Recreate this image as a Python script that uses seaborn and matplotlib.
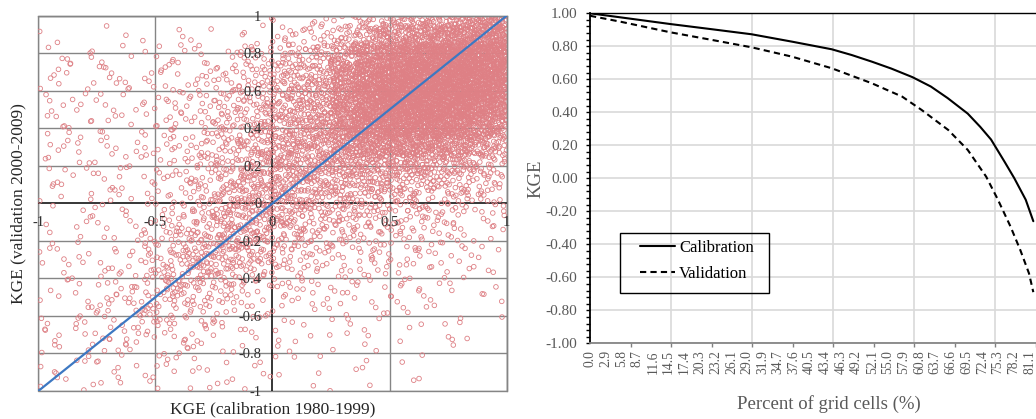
import numpy as np
import pandas as pd
import matplotlib
matplotlib.use("Agg")
import matplotlib.pyplot as plt
from matplotlib.patches import Rectangle
from matplotlib.lines import Line2D
import seaborn as sns

# ------------------------------------------------------------------
# Left panel data: number of points per 0.1 x 0.1 cell
# rows: top (y 0.9..1.0) -> bottom (y -1.0..-0.9); cols: x -1.0..-0.9 -> 0.9..1.0
# ------------------------------------------------------------------
cell_counts = [
    [0, 0, 0, 0, 0,   0, 1, 0, 0, 1,   2, 4, 5,   12, 18,   25, 32, 38, 50, 60],
    [2, 1, 2, 1, 2,   2, 2, 3, 3, 5,   10, 12, 15,   35, 55,   75, 85, 95, 100, 100],
    [3, 3, 3, 3, 3,   4, 4, 5, 8, 10,   18, 22, 30,   65, 85,   110, 120, 125, 125, 110],
    [3, 3, 3, 3, 3,   4, 5, 7, 10, 14,   22, 25, 35,   80, 100,   125, 130, 130, 125, 105],
    [3, 3, 3, 3, 3,   5, 6, 9, 12, 16,   25, 28, 40,   85, 105,   125, 125, 125, 120, 90],
    [3, 3, 3, 3, 3,   5, 7, 10, 14, 18,   28, 30, 45,   85, 100,   110, 110, 105, 100, 65],
    [3, 3, 3, 3, 3,   6, 7, 12, 16, 22,   30, 35, 45,   70, 80,   85, 80, 75, 60, 35],
    [3, 3, 3, 3, 3,   6, 7, 12, 18, 25,   30, 32, 38,   45, 45,   45, 40, 38, 30, 15],
    [3, 3, 3, 3, 3,   6, 8, 14, 20, 28,   30, 30, 30,   32, 30,   28, 25, 22, 18, 10],
    [2, 3, 2, 3, 3,   5, 8, 15, 22, 28,   28, 25, 22,   22, 20,   18, 16, 14, 12, 8],
    [2, 2, 3, 3, 3,   6, 10, 18, 25, 28,   24, 20, 18,   16, 14,   12, 10, 8, 6, 4],
    [2, 3, 2, 3, 4,   10, 14, 22, 28, 25,   18, 15, 12,   12, 10,   8, 8, 6, 5, 3],
    [2, 3, 2, 3, 5,   12, 18, 25, 24, 18,   12, 10, 8,   8, 7,   6, 5, 5, 4, 2],
    [3, 2, 3, 4, 6,   16, 22, 22, 16, 12,   8, 7, 6,   5, 5,   5, 4, 3, 2, 2],
    [2, 2, 3, 5, 8,   16, 18, 12, 8, 6,   5, 5, 4,   4, 4,   4, 3, 2, 2, 1],
    [2, 3, 4, 7, 10,   12, 10, 7, 5, 4,   3, 3, 3,   3, 3,   2, 2, 2, 1, 1],
    [3, 3, 5, 6, 7,   8, 6, 4, 3, 3,   2, 2, 2,   2, 2,   2, 1, 1, 1, 1],
    [3, 3, 4, 4, 4,   4, 4, 3, 2, 2,   2, 2, 1,   2, 1,   1, 1, 1, 1, 0],
    [2, 3, 3, 2, 3,   3, 3, 2, 2, 2,   1, 1, 1,   1, 1,   1, 1, 1, 0, 0],
    [2, 2, 2, 2, 2,   2, 2, 2, 2, 2,   1, 1, 1,   1, 1,   1, 0, 0, 0, 0],
]
cell_col_left = [-1.0, -0.9, -0.8, -0.7, -0.6, -0.5, -0.4, -0.3, -0.2, -0.1,
                 0.0, 0.1, 0.2, 0.3, 0.4, 0.5, 0.6, 0.7, 0.8, 0.9]
cell_row_bottom = [0.9, 0.8, 0.7, 0.6, 0.5, 0.4, 0.3, 0.2, 0.1, 0.0,
                   -0.1, -0.2, -0.3, -0.4, -0.5, -0.6, -0.7, -0.8, -0.9, -1.0]
cell_size = 0.1

left_xticks = [-1, -0.5, 0, 0.5, 1]
left_xticklabels = ["-1", "-0.5", "0", "0.5", "1"]
left_yticks = [1, 0.8, 0.6, 0.4, 0.2, 0, -0.2, -0.4, -0.6, -0.8, -1]
left_yticklabels = ["1", "0.8", "0.6", "0.4", "0.2", "0", "-0.2", "-0.4", "-0.6", "-0.8", "-1"]

# ------------------------------------------------------------------
# Right panel data: KGE vs percent of grid cells
# ------------------------------------------------------------------
calib_pct = [0.0, 5.5, 14.8, 22.6, 29.8, 37.3, 44.6, 48.3, 52.0, 55.6, 59.5,
             62.9, 66.0, 69.7, 72.0, 74.0, 76.5, 78.3, 80.4, 81.8]
calib_kge = [1.00, 0.976, 0.935, 0.903, 0.873, 0.828, 0.782, 0.747, 0.707, 0.665, 0.613,
             0.556, 0.486, 0.392, 0.312, 0.235, 0.100, 0.000, -0.130, -0.260]
valid_pct = [0.0, 5.5, 14.8, 22.6, 29.8, 37.3, 44.6, 52.0, 57.6, 61.2, 66.1,
             69.7, 73.1, 75.2, 77.6, 79.4, 81.0, 81.8]
valid_kge = [0.985, 0.950, 0.885, 0.838, 0.794, 0.737, 0.667, 0.576, 0.495, 0.414, 0.293,
             0.172, 0.010, -0.125, -0.293, -0.435, -0.576, -0.690]
pct_ticklabels = ["0.0", "2.9", "5.8", "8.7", "11.6", "14.5", "17.4", "20.3", "23.2", "26.1",
                  "29.0", "31.9", "34.7", "37.6", "40.5", "43.4", "46.3", "49.2", "52.1", "55.0",
                  "57.9", "60.8", "63.7", "66.6", "69.5", "72.4", "75.3", "78.2", "81.1"]
kge_ticks = [1.0, 0.8, 0.6, 0.4, 0.2, 0.0, -0.2, -0.4, -0.6, -0.8, -1.0]
series_names = ["Calibration", "Validation"]

# ------------------------------------------------------------------
sns.set_style("white")
plt.rcParams["font.family"] = ["Liberation Serif", "DejaVu Serif"]
plt.rcParams["axes.unicode_minus"] = False

W, H = 1036, 419
fig = plt.figure(figsize=(W / 100, H / 100), dpi=100)

def fx(px):
    return px / W

def fy(py):
    return 1 - py / H

# ---------------- left panel ----------------
L0, R0, T0, B0 = 38.3, 506.7, 15.7, 391.0
ax1 = fig.add_axes([fx(L0), fy(B0), fx(R0 - L0), (B0 - T0) / H])

# Place each cell's points quasi-uniformly (leaped Halton sequence, bases 2/3)
# over a box twice the cell size, which smooths the block edges;
# reflect at the plot limits.
def radical_inverse(n, base):
    inv, f = 0.0, 1.0 / base
    while n > 0:
        n, d = divmod(n, base)
        inv += d * f
        f /= base
    return inv

def reflect(v):
    if v > 1:
        return 2 - v
    if v < -1:
        return -2 - v
    return v

LEAP = 409
xs, ys = [], []
k = 0
for r, row in enumerate(cell_counts):
    for c, n in enumerate(row):
        cx = cell_col_left[c] + cell_size / 2
        cy = cell_row_bottom[r] + cell_size / 2
        for _ in range(n):
            k += 1
            idx = 17 + k * LEAP
            u = radical_inverse(idx, 2)
            w = radical_inverse(idx, 3)
            xs.append(reflect(cx + 2 * cell_size * (u - 0.5)))
            ys.append(reflect(cy + 2 * cell_size * (w - 0.5)))
scatter_df = pd.DataFrame({"calibration": xs, "validation": ys})

grid_gray = "#858585"
for yv in left_yticks:
    if yv != 0:
        ax1.axhline(yv, color=grid_gray, lw=1.0, zorder=0.5)
for xv in left_xticks:
    if xv != 0:
        ax1.axvline(xv, color=grid_gray, lw=1.0, zorder=0.5)
ax1.axhline(0, color="black", lw=1.1, zorder=1)
ax1.axvline(0, color="black", lw=1.1, zorder=1)

sns.scatterplot(data=scatter_df, x="calibration", y="validation", ax=ax1,
                s=11, marker="o", facecolor="none", edgecolor="#de8085",
                linewidth=0.6, zorder=2, legend=False)
ax1.axline((0, 0), slope=1, color="#3d78c2", lw=1.6, zorder=3)

ax1.set_xlim(-1, 1)
ax1.set_ylim(-1, 1)
ax1.spines["left"].set_position("zero")
ax1.spines["bottom"].set_position("zero")
for s in ["left", "bottom"]:
    ax1.spines[s].set_visible(False)
for s in ["top", "right"]:
    ax1.spines[s].set_color(grid_gray)
    ax1.spines[s].set_linewidth(1.0)
ax1.add_patch(Rectangle((0, 0), 1, 1, transform=ax1.transAxes, fill=False,
                        edgecolor=grid_gray, lw=1.0, zorder=0.6, clip_on=False))
ax1.set_xticks(left_xticks)
ax1.set_xticklabels(left_xticklabels)
ax1.set_yticks(left_yticks)
ax1.set_yticklabels(left_yticklabels)
ax1.tick_params(axis="x", length=0, pad=9, labelsize=10.5, colors="#303030")
ax1.tick_params(axis="y", length=0, pad=8, labelsize=10.5, colors="#303030")
ax1.xaxis.set_zorder(5)
ax1.yaxis.set_zorder(5)
ax1.set_xlabel("KGE (calibration 1980-1999)", fontsize=12.5, color="#262626")
ax1.set_ylabel("KGE (validation 2000-2009)", fontsize=12.5, color="#262626")
ax1.xaxis.set_label_coords(0.5, -0.027)
ax1.yaxis.set_label_coords(-0.026, 0.5)
ax1.grid(False)

# ---------------- right panel ----------------
L2, R2, T2, B2 = 590.0, 1068.0, 13.3, 343.3
ax2 = fig.add_axes([fx(L2), fy(B2), fx(R2 - L2), (B2 - T2) / H])
XMAX = 88.2

line_df = pd.concat([
    pd.DataFrame({"pct": calib_pct, "kge": calib_kge, "series": series_names[0]}),
    pd.DataFrame({"pct": valid_pct, "kge": valid_kge, "series": series_names[1]}),
], ignore_index=True)

light = "#d9d9d9"
ax2.set_xlim(0, XMAX)
ax2.set_ylim(-1, 1)
ax2.set_yticks(kge_ticks)
ax2.set_yticklabels([f"{v:.2f}" for v in kge_ticks])
ax2.set_yticks(np.arange(-1.0, 1.0001, 0.04), minor=True)
ax2.yaxis.grid(True, which="major", color=light, lw=1.2, zorder=0)
grid_step = 14.95
for xv in np.arange(grid_step, XMAX, grid_step):
    ax2.axvline(xv, color=light, lw=1.2, zorder=0)
ax2.set_xticks([float(t) for t in pct_ticklabels])
ax2.set_xticklabels(pct_ticklabels, rotation=90)
ax2.set_xticks(np.arange(0, XMAX, grid_step / 2), minor=True)
ax2.set_axisbelow(True)

sns.lineplot(data=line_df, x="pct", y="kge", style="series",
             dashes={"Calibration": "", "Validation": (3, 2)},
             color="black", lw=1.5, ax=ax2, legend=False, sort=False,
             estimator=None, zorder=3)

ax2.tick_params(axis="x", which="major", length=0, pad=5, labelsize=9.8, colors="#595959")
ax2.tick_params(axis="x", which="minor", length=3, width=1, direction="out",
                color="#808080", bottom=True)
ax2.tick_params(axis="y", which="major", length=3, width=1, direction="out",
                pad=6, labelsize=11, colors="#595959", left=True)
ax2.tick_params(axis="y", which="minor", length=3, width=1, direction="out",
                color="black", left=True)
ax2.tick_params(axis="y", which="major", color="black")
ax2.spines["left"].set_color("black")
ax2.spines["left"].set_linewidth(1.3)
ax2.spines["top"].set_color("black")
ax2.spines["top"].set_linewidth(1.0)
ax2.spines["bottom"].set_color("#868686")
ax2.spines["bottom"].set_linewidth(1.3)
ax2.spines["right"].set_visible(False)
ax2.set_xlabel("Percent of grid cells (%)", fontsize=13.5, color="#595959")
ax2.set_ylabel("KGE", fontsize=13.5, color="#595959")
ax2.xaxis.set_label_coords(0.5, -0.157)
ax2.yaxis.set_label_coords(-0.096, 0.5)

# legend
fig.patches.append(Rectangle((fx(620), fy(292.7)), fx(149.3), 60 / H,
                             transform=fig.transFigure, fill=False,
                             edgecolor="black", lw=1.0, zorder=5))
handles = [Line2D([], [], color="black", lw=1.5),
           Line2D([], [], color="black", lw=1.5, dashes=(3, 2))]
leg = ax2.legend(handles, series_names, loc="upper left",
                 bbox_to_anchor=(fx(640), fy(239.5)), bbox_transform=fig.transFigure,
                 frameon=False, fontsize=12, borderpad=0, borderaxespad=0,
                 handlelength=2.1, handletextpad=0.25, labelspacing=0.62)
for t in leg.get_texts():
    t.set_color("black")

fig.savefig("out.png", dpi=100)
